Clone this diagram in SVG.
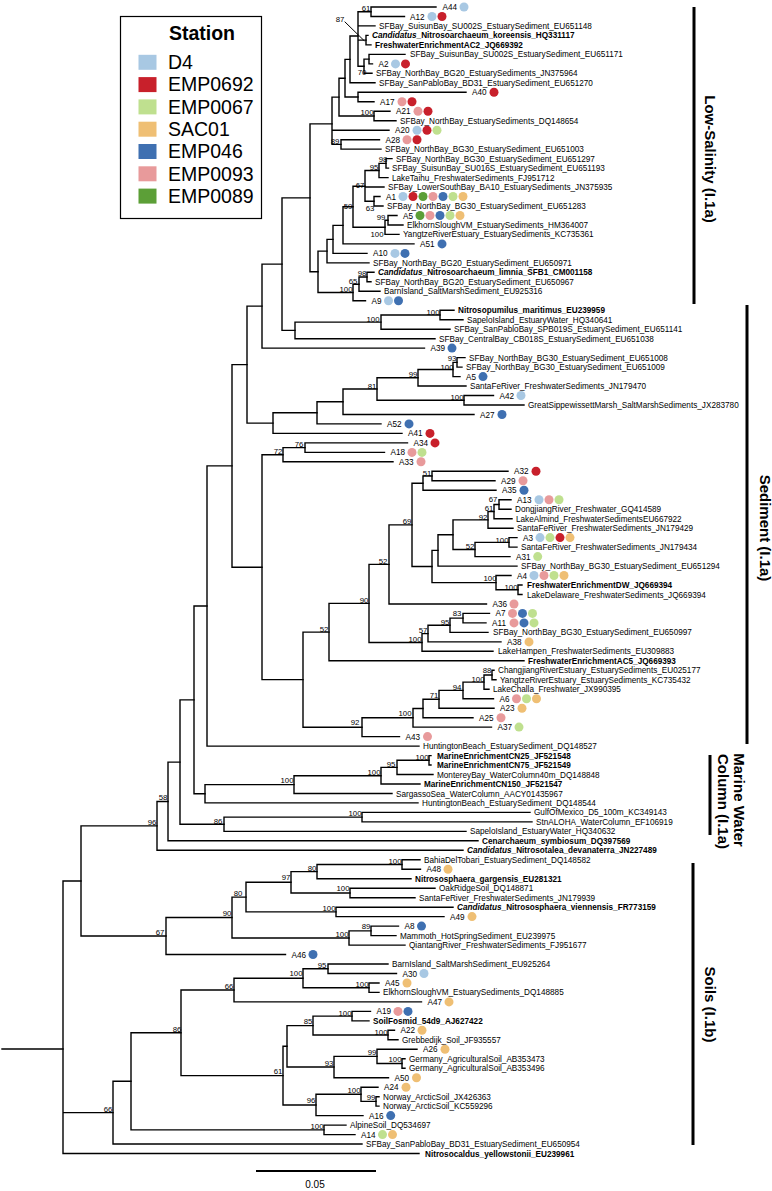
<svg xmlns="http://www.w3.org/2000/svg" width="772" height="1191" viewBox="0 0 772 1191">
<style>
.t{font-family:"Liberation Sans",Arial,Helvetica,sans-serif;font-size:8.2px;fill:#000}
.b{font-weight:bold}
.bs{font-family:"Liberation Sans",Arial,sans-serif;font-size:7.8px;text-anchor:middle;fill:#000}
.br path{fill:none;stroke:#000;stroke-width:1.4;stroke-linecap:square}
.bar{stroke:#000;stroke-width:3}
.cl{font-family:"Liberation Sans",Arial,sans-serif;font-size:15px;font-weight:bold;text-anchor:middle;fill:#000}
.lg{font-family:"Liberation Sans",Arial,sans-serif;font-size:19.5px;fill:#000}
.s1{fill:#a8c8e3}.s2{fill:#c8202b}.s3{fill:#bfe08f}.s4{fill:#efbf74}.s5{fill:#3f70b1}.s6{fill:#e89a9b}.s7{fill:#5c9f37}
</style>
<rect width="772" height="1191" fill="#fff"/>
<g id="legend">
<rect x="120.5" y="16.5" width="141" height="202" fill="#fff" stroke="#000" stroke-width="1.2"/>
<text class="lg" x="202" y="40" text-anchor="middle" font-weight="bold">Station</text>
<rect class="s1" x="138.5" y="54.8" width="18" height="15"/><text class="lg" x="168" y="69.1">D4</text>
<rect class="s2" x="138.5" y="77.1" width="18" height="15"/><text class="lg" x="168" y="91.4">EMP0692</text>
<rect class="s3" x="138.5" y="99.4" width="18" height="15"/><text class="lg" x="168" y="113.7">EMP0067</text>
<rect class="s4" x="138.5" y="121.7" width="18" height="15"/><text class="lg" x="168" y="136">SAC01</text>
<rect class="s5" x="138.5" y="144" width="18" height="15"/><text class="lg" x="168" y="158.3">EMP046</text>
<rect class="s6" x="138.5" y="166.3" width="18" height="15"/><text class="lg" x="168" y="180.6">EMP0093</text>
<rect class="s7" x="138.5" y="188.6" width="18" height="15"/><text class="lg" x="168" y="202.9">EMP0089</text>
</g>
<g id="branches" class="br">
<path d="M2 1049H63"/>
<path d="M436 7H371V16.5H404.5"/>
<path d="M368 35.4H366V44.9H371"/>
<path d="M405 54.4H369V63.9H372.5"/>
<path d="M369 59.15H364V73.3H372"/>
<path d="M371 11.75H358V66.2H364M358 25.9H375M358 40.15H366"/>
<path d="M358 36H350V82.8H375"/>
<path d="M466 92.3H358V101.8H374"/>
<path d="M350 59.4H345V97.05H358"/>
<path d="M390 111.2H374V120.7H396"/>
<path d="M345 78.2H339V115.95H374"/>
<path d="M379.5 139.7H341V149.1H381"/>
<path d="M339 97.1H332V144.4H341M332 130.2H389"/>
<path d="M392 158.6H386V168.1H388.5"/>
<path d="M386 163.35H379V177.6H388"/>
<path d="M380 196.5H374V206H383"/>
<path d="M379 170.5H365V201.25H374M365 187H384"/>
<path d="M397 215.5H388V225H403"/>
<path d="M388 220.25H385V234.4H399"/>
<path d="M365 186.25H353V227.3H385"/>
<path d="M353 206.8H343V243.9H414"/>
<path d="M343 225.35H333V253.4H367"/>
<path d="M333 239.4H327V262.9H369"/>
<path d="M374 272.3H367V281.8H371"/>
<path d="M367 277.05H359V291.3H380"/>
<path d="M359 284.2H353V300.8H365.5"/>
<path d="M327 251.1H318V292.5H353"/>
<path d="M332 123.9H310V271.8H318"/>
<path d="M454 310.2H440V319.7H463"/>
<path d="M440 314.95H381V329.2H450"/>
<path d="M381 322.1H295V338.7H435"/>
<path d="M310 197.85H282V330.4H295"/>
<path d="M282 264.1H262V348.1H424.5"/>
<path d="M465 357.6H457V367.1H462"/>
<path d="M457 362.35H453V376.6H460"/>
<path d="M453 369.5H418V386H466"/>
<path d="M493.5 395.5H464V405H524"/>
<path d="M418 377.75H377V400.25H464"/>
<path d="M377 389H343V414.5H474"/>
<path d="M343 401.75H317V423.9H381"/>
<path d="M317 412.8H273V433.4H402"/>
<path d="M262 306.1H247V423.1H273"/>
<path d="M407.5 442.9H305V452.4H384.5"/>
<path d="M305 447.65H283V461.8H393"/>
<path d="M508 471.3H432V480.8H495"/>
<path d="M432 476.05H423V490.3H496"/>
<path d="M511 499.7H499V509.2H511"/>
<path d="M499 504.45H494V518.7H512"/>
<path d="M494 511.6H488V528.2H513"/>
<path d="M517 537.6H509V547.1H517"/>
<path d="M509 542.35H475V556.6H510"/>
<path d="M488 519.9H453V549.5H475"/>
<path d="M453 534.7H438V566.1H517"/>
<path d="M522 585H518V594.5H522"/>
<path d="M511 575.5H496V589.75H518"/>
<path d="M438 550.4H432V582.6H496"/>
<path d="M423 483.2H412V566.5H432"/>
<path d="M412 524.85H389V604H486.5"/>
<path d="M489.5 613.4H463V622.9H486"/>
<path d="M463 618.15H450V632.4H488"/>
<path d="M450 625.3H428V641.9H501"/>
<path d="M428 633.6H422V651.3H493"/>
<path d="M389 564.4H369V642.45H422"/>
<path d="M369 603.4H329V660.8H524"/>
<path d="M494 670.3H492V679.8H496"/>
<path d="M492 675.05H484V689.2H489"/>
<path d="M484 682.1H463V698.7H493.5"/>
<path d="M463 690.4H439V708.2H494"/>
<path d="M439 699.3H423V717.7H473"/>
<path d="M423 708.5H413V727.1H491.5"/>
<path d="M413 717.8H362V736.6H399.5"/>
<path d="M329 632.1H303V727.2H362"/>
<path d="M283 454.7H262V679.65H303"/>
<path d="M247 364.6H232V567.2H262"/>
<path d="M232 465.9H207V746.1H419"/>
<path d="M431 755.6H429V765H431"/>
<path d="M429 760.3H397V774.5H433"/>
<path d="M397 767.4H381V784H420"/>
<path d="M381 775.7H294V793.5H392"/>
<path d="M294 784.6H205V802.9H418"/>
<path d="M207 606H194V793.75H205"/>
<path d="M530 812.4H362V821.9H532"/>
<path d="M362 817.15H224V831.4H466"/>
<path d="M194 699.9H180V824.3H224"/>
<path d="M180 762.1H168V840.8H478"/>
<path d="M168 801.45H157V850.3H463"/>
<path d="M420 859.8H402V869.3H420.5"/>
<path d="M402 864.55H317V878.7H411"/>
<path d="M435 888.2H350V897.7H415"/>
<path d="M317 871.6H291V892.95H350"/>
<path d="M453 907.2H336V916.6H444"/>
<path d="M291 882.3H246V911.9H336"/>
<path d="M398.5 926.1H371V935.6H396"/>
<path d="M371 930.85H349V945.1H405"/>
<path d="M246 897.1H232V938H349"/>
<path d="M232 917.55H166V954.5H285.5"/>
<path d="M157 825.9H81V936H166"/>
<path d="M388 964H328V973.5H396.5"/>
<path d="M379 983H369V992.4H379"/>
<path d="M328 968.75H303V987.7H369"/>
<path d="M303 978.2H234V1001.9H421.5"/>
<path d="M370.5 1011.4H352V1020.9H369"/>
<path d="M394.5 1030.3H388V1039.8H398"/>
<path d="M352 1016.15H313V1035.05H388"/>
<path d="M405 1058.8H402V1068.2H405"/>
<path d="M417 1049.3H377V1063.5H402"/>
<path d="M377 1056.4H334V1077.7H388.5"/>
<path d="M313 1025.6H287V1067.05H334"/>
<path d="M379 1096.7H376V1106.1H379"/>
<path d="M378 1087.2H361V1101.4H376"/>
<path d="M361 1094.3H316V1115.6H363"/>
<path d="M287 1046.3H283V1104.95H316"/>
<path d="M234 990.05H181V1075.6H283"/>
<path d="M346 1125.1H324V1134.6H355"/>
<path d="M181 1032.8H131V1129.85H324"/>
<path d="M131 1081.3H113V1144H362"/>
<path d="M81 880.95H63V1153.5H419M63 1112.65H113"/>
<path d="M345 22L364 40.5" style="stroke-width:1"/>
</g>
<g id="support">
<text class="bs" x="366" y="10.9">61</text><text class="bs" x="340" y="21.9">87</text><text class="bs" x="362" y="74.9">70</text><text class="bs" x="367" y="114.9">100</text><text class="bs" x="335" y="143.9">89</text><text class="bs" x="383" y="161.9">98</text><text class="bs" x="374" y="169.9">95</text><text class="bs" x="360" y="187.9">67</text><text class="bs" x="348" y="208.9">59</text><text class="bs" x="370" y="210.9">63</text><text class="bs" x="381" y="219.9">99</text><text class="bs" x="377" y="236.9">100</text><text class="bs" x="362" y="275.9">98</text><text class="bs" x="353" y="283.9">65</text><text class="bs" x="346" y="291.9">100</text><text class="bs" x="433" y="314.9">100</text><text class="bs" x="373" y="321.9">100</text><text class="bs" x="452" y="360.9">93</text><text class="bs" x="447" y="369.9">100</text><text class="bs" x="413" y="376.9">99</text><text class="bs" x="372" y="388.9">81</text><text class="bs" x="457" y="399.9">100</text><text class="bs" x="299" y="446.9">76</text><text class="bs" x="278" y="453.9">72</text><text class="bs" x="427" y="475.9">51</text><text class="bs" x="493" y="501.9">67</text><text class="bs" x="489" y="510.9">61</text><text class="bs" x="483" y="519.9">92</text><text class="bs" x="407" y="523.9">69</text><text class="bs" x="502" y="542.9">100</text><text class="bs" x="470" y="548.9">52</text><text class="bs" x="383" y="563.9">52</text><text class="bs" x="490" y="580.9">100</text><text class="bs" x="511" y="589.9">100</text><text class="bs" x="364" y="602.9">90</text><text class="bs" x="457" y="615.9">83</text><text class="bs" x="445" y="624.9">95</text><text class="bs" x="423" y="632.9">57</text><text class="bs" x="324" y="631.9">52</text><text class="bs" x="415" y="641.9">100</text><text class="bs" x="487" y="672.9">88</text><text class="bs" x="478" y="681.9">100</text><text class="bs" x="457" y="689.9">94</text><text class="bs" x="434" y="697.9">71</text><text class="bs" x="405" y="715.9">100</text><text class="bs" x="355" y="724.9">92</text><text class="bs" x="422" y="759.9">100</text><text class="bs" x="391" y="766.9">95</text><text class="bs" x="374" y="774.9">100</text><text class="bs" x="287" y="782.9">100</text><text class="bs" x="163" y="799.9">58</text><text class="bs" x="355" y="815.9">100</text><text class="bs" x="218" y="823.9">86</text><text class="bs" x="152" y="824.9">96</text><text class="bs" x="395" y="863.9">100</text><text class="bs" x="312" y="870.9">80</text><text class="bs" x="286" y="879.9">97</text><text class="bs" x="343" y="890.9">100</text><text class="bs" x="238" y="895.9">80</text><text class="bs" x="329" y="910.9">100</text><text class="bs" x="227" y="915.9">90</text><text class="bs" x="366" y="928.9">89</text><text class="bs" x="342" y="936.9">100</text><text class="bs" x="160" y="934.9">67</text><text class="bs" x="322" y="967.9">95</text><text class="bs" x="296" y="975.9">100</text><text class="bs" x="229" y="988.9">66</text><text class="bs" x="362" y="986.9">100</text><text class="bs" x="345" y="1015.9">100</text><text class="bs" x="308" y="1023.9">85</text><text class="bs" x="177" y="1031.9">86</text><text class="bs" x="381" y="1034.9">100</text><text class="bs" x="372" y="1054.9">99</text><text class="bs" x="395" y="1061.9">100</text><text class="bs" x="329" y="1065.9">93</text><text class="bs" x="278" y="1073.9">61</text><text class="bs" x="354" y="1092.9">100</text><text class="bs" x="371" y="1099.9">99</text><text class="bs" x="311" y="1102.9">96</text><text class="bs" x="108" y="1111.9">66</text><text class="bs" x="317" y="1128.9">100</text>
</g>
<g id="leaf1"><text class="t" x="442.5" y="10">A44</text><circle class="s1" cx="464" cy="7" r="4.5"/></g>
<g id="leaf2"><text class="t" x="410" y="19.5">A12</text><circle class="s1" cx="432" cy="16.5" r="4.5"/><circle class="s2" cx="442" cy="16.5" r="4.5"/></g>
<g id="leaf3"><text class="t" x="379" y="28.9">SFBay_SuisunBay_SU002S_EstuarySediment_EU651148</text></g>
<g id="leaf4"><text class="t b" x="372" y="38.4"><tspan font-style="italic">Candidatus</tspan>_Nitrosoarchaeum_koreensis_HQ331117</text></g>
<g id="leaf5"><text class="t b" x="375" y="47.9">FreshwaterEnrichmentAC2_JQ669392</text></g>
<g id="leaf6"><text class="t" x="410" y="57.4">SFBay_SuisunBay_SU002S_EstuarySediment_EU651171</text></g>
<g id="leaf7"><text class="t" x="378.5" y="66.9">A2</text><circle class="s1" cx="395.5" cy="63.9" r="4.5"/><circle class="s2" cx="405.5" cy="63.9" r="4.5"/></g>
<g id="leaf8"><text class="t" x="376" y="76.3">SFBay_NorthBay_BG20_EstuarySediments_JN375964</text></g>
<g id="leaf9"><text class="t" x="379" y="85.8">SFBay_SanPabloBay_BD31_EstuarySediment_EU651270</text></g>
<g id="leaf10"><text class="t" x="472" y="95.3">A40</text><circle class="s2" cx="494" cy="92.3" r="4.5"/></g>
<g id="leaf11"><text class="t" x="380" y="104.8">A17</text><circle class="s6" cx="402" cy="101.8" r="4.5"/><circle class="s2" cx="412" cy="101.8" r="4.5"/></g>
<g id="leaf12"><text class="t" x="396" y="114.2">A21</text><circle class="s6" cx="418" cy="111.2" r="4.5"/><circle class="s2" cx="428" cy="111.2" r="4.5"/></g>
<g id="leaf13"><text class="t" x="400" y="123.7">SFBay_NorthBay_EstuarySediments_DQ148654</text></g>
<g id="leaf14"><text class="t" x="395" y="133.2">A20</text><circle class="s1" cx="417" cy="130.2" r="4.5"/><circle class="s2" cx="427" cy="130.2" r="4.5"/><circle class="s3" cx="437" cy="130.2" r="4.5"/></g>
<g id="leaf15"><text class="t" x="385.5" y="142.7">A28</text><circle class="s6" cx="407" cy="139.7" r="4.5"/><circle class="s2" cx="417" cy="139.7" r="4.5"/></g>
<g id="leaf16"><text class="t" x="385" y="152.1">SFBay_NorthBay_BG30_EstuarySediment_EU651003</text></g>
<g id="leaf17"><text class="t" x="396" y="161.6">SFBay_NorthBay_BG30_EstuarySediment_EU651297</text></g>
<g id="leaf18"><text class="t" x="392" y="171.1">SFBay_SuisunBay_SU016S_EstuarySediment_EU651193</text></g>
<g id="leaf19"><text class="t" x="392" y="180.6">LakeTaihu_FreshwaterSediments_FJ951712</text></g>
<g id="leaf20"><text class="t" x="388" y="190">SFBay_LowerSouthBay_BA10_EstuarySediments_JN375935</text></g>
<g id="leaf21"><text class="t" x="386" y="199.5">A1</text><circle class="s1" cx="403" cy="196.5" r="4.5"/><circle class="s2" cx="413" cy="196.5" r="4.5"/><circle class="s7" cx="423" cy="196.5" r="4.5"/><circle class="s6" cx="433" cy="196.5" r="4.5"/><circle class="s5" cx="443" cy="196.5" r="4.5"/><circle class="s3" cx="453" cy="196.5" r="4.5"/><circle class="s4" cx="463" cy="196.5" r="4.5"/></g>
<g id="leaf22"><text class="t" x="387" y="209">SFBay_NorthBay_BG30_EstuarySediment_EU651283</text></g>
<g id="leaf23"><text class="t" x="403" y="218.5">A5</text><circle class="s7" cx="420" cy="215.5" r="4.5"/><circle class="s6" cx="430" cy="215.5" r="4.5"/><circle class="s5" cx="440" cy="215.5" r="4.5"/><circle class="s3" cx="450" cy="215.5" r="4.5"/><circle class="s4" cx="460" cy="215.5" r="4.5"/></g>
<g id="leaf24"><text class="t" x="407" y="228">ElkhornSloughVM_EstuarySediments_HM364007</text></g>
<g id="leaf25"><text class="t" x="403" y="237.4">YangtzeRiverEstuary_EstuarySediments_KC735361</text></g>
<g id="leaf26"><text class="t" x="420" y="246.9">A51</text><circle class="s5" cx="442" cy="243.9" r="4.5"/></g>
<g id="leaf27"><text class="t" x="373" y="256.4">A10</text><circle class="s1" cx="395" cy="253.4" r="4.5"/><circle class="s5" cx="405" cy="253.4" r="4.5"/></g>
<g id="leaf28"><text class="t" x="373" y="265.9">SFBay_NorthBay_BG20_EstuarySediment_EU650971</text></g>
<g id="leaf29"><text class="t b" x="378" y="275.3"><tspan font-style="italic">Candidatus</tspan>_Nitrosoarchaeum_limnia_SFB1_CM001158</text></g>
<g id="leaf30"><text class="t" x="375" y="284.8">SFBay_NorthBay_BG20_EstuarySediment_EU650967</text></g>
<g id="leaf31"><text class="t" x="384" y="294.3">BarnIsland_SaltMarshSediment_EU925316</text></g>
<g id="leaf32"><text class="t" x="371.5" y="303.8">A9</text><circle class="s1" cx="388.5" cy="300.8" r="4.5"/><circle class="s5" cx="398.5" cy="300.8" r="4.5"/></g>
<g id="leaf33"><text class="t b" x="458" y="313.2">Nitrosopumilus_maritimus_EU239959</text></g>
<g id="leaf34"><text class="t" x="467" y="322.7">SapeloIsland_EstuaryWater_HQ340641</text></g>
<g id="leaf35"><text class="t" x="454" y="332.2">SFBay_SanPabloBay_SPB019S_EstuarySediment_EU651141</text></g>
<g id="leaf36"><text class="t" x="439" y="341.7">SFBay_CentralBay_CB018S_EstuarySediment_EU651038</text></g>
<g id="leaf37"><text class="t" x="430.5" y="351.1">A39</text><circle class="s5" cx="452" cy="348.1" r="4.5"/></g>
<g id="leaf38"><text class="t" x="469" y="360.6">SFBay_NorthBay_BG30_EstuarySediment_EU651008</text></g>
<g id="leaf39"><text class="t" x="466" y="370.1">SFBay_NorthBay_BG30_EstuarySediment_EU651009</text></g>
<g id="leaf40"><text class="t" x="466" y="379.6">A5</text><circle class="s5" cx="483" cy="376.6" r="4.5"/></g>
<g id="leaf41"><text class="t" x="470" y="389">SantaFeRiver_FreshwaterSediments_JN179470</text></g>
<g id="leaf42"><text class="t" x="499.5" y="398.5">A42</text><circle class="s1" cx="521" cy="395.5" r="4.5"/></g>
<g id="leaf43"><text class="t" x="528" y="408">GreatSippewissettMarsh_SaltMarshSediments_JX283780</text></g>
<g id="leaf44"><text class="t" x="480" y="417.5">A27</text><circle class="s5" cx="502" cy="414.5" r="4.5"/></g>
<g id="leaf45"><text class="t" x="387" y="426.9">A52</text><circle class="s5" cx="409" cy="423.9" r="4.5"/></g>
<g id="leaf46"><text class="t" x="408" y="436.4">A41</text><circle class="s2" cx="430" cy="433.4" r="4.5"/></g>
<g id="leaf47"><text class="t" x="413.5" y="445.9">A34</text><circle class="s2" cx="435" cy="442.9" r="4.5"/></g>
<g id="leaf48"><text class="t" x="390.5" y="455.4">A18</text><circle class="s6" cx="412" cy="452.4" r="4.5"/><circle class="s3" cx="422" cy="452.4" r="4.5"/></g>
<g id="leaf49"><text class="t" x="399" y="464.8">A33</text><circle class="s6" cx="421" cy="461.8" r="4.5"/></g>
<g id="leaf50"><text class="t" x="514" y="474.3">A32</text><circle class="s2" cx="536" cy="471.3" r="4.5"/></g>
<g id="leaf51"><text class="t" x="501" y="483.8">A29</text><circle class="s6" cx="523" cy="480.8" r="4.5"/></g>
<g id="leaf52"><text class="t" x="502" y="493.3">A35</text><circle class="s5" cx="524" cy="490.3" r="4.5"/></g>
<g id="leaf53"><text class="t" x="517" y="502.7">A13</text><circle class="s1" cx="539" cy="499.7" r="4.5"/><circle class="s6" cx="549" cy="499.7" r="4.5"/><circle class="s3" cx="559" cy="499.7" r="4.5"/></g>
<g id="leaf54"><text class="t" x="515" y="512.2">DongjiangRiver_Freshwater_GQ414589</text></g>
<g id="leaf55"><text class="t" x="516" y="521.7">LakeAlmind_FreshwaterSedimentsEU667922</text></g>
<g id="leaf56"><text class="t" x="517" y="531.2">SantaFeRiver_FreshwaterSediments_JN179429</text></g>
<g id="leaf57"><text class="t" x="523" y="540.6">A3</text><circle class="s1" cx="540" cy="537.6" r="4.5"/><circle class="s3" cx="550" cy="537.6" r="4.5"/><circle class="s2" cx="560" cy="537.6" r="4.5"/><circle class="s4" cx="570" cy="537.6" r="4.5"/></g>
<g id="leaf58"><text class="t" x="521" y="550.1">SantaFeRiver_FreshwaterSediments_JN179434</text></g>
<g id="leaf59"><text class="t" x="516" y="559.6">A31</text><circle class="s3" cx="537.7" cy="556.6" r="4.5"/></g>
<g id="leaf60"><text class="t" x="521" y="569.1">SFBay_NorthBay_BG30_EstuarySediment_EU651294</text></g>
<g id="leaf61"><text class="t" x="517" y="578.5">A4</text><circle class="s1" cx="534" cy="575.5" r="4.5"/><circle class="s6" cx="544" cy="575.5" r="4.5"/><circle class="s3" cx="554" cy="575.5" r="4.5"/><circle class="s4" cx="564" cy="575.5" r="4.5"/></g>
<g id="leaf62"><text class="t b" x="527" y="588">FreshwaterEnrichmentDW_JQ669394</text></g>
<g id="leaf63"><text class="t" x="527" y="597.5">LakeDelaware_FreshwaterSediments_JQ669394</text></g>
<g id="leaf64"><text class="t" x="492.5" y="607">A36</text><circle class="s6" cx="514" cy="604" r="4.5"/></g>
<g id="leaf65"><text class="t" x="495.5" y="616.4">A7</text><circle class="s6" cx="512.5" cy="613.4" r="4.5"/><circle class="s5" cx="522.5" cy="613.4" r="4.5"/><circle class="s3" cx="532.5" cy="613.4" r="4.5"/></g>
<g id="leaf66"><text class="t" x="492" y="625.9">A11</text><circle class="s6" cx="514" cy="622.9" r="4.5"/><circle class="s5" cx="524" cy="622.9" r="4.5"/><circle class="s3" cx="534" cy="622.9" r="4.5"/></g>
<g id="leaf67"><text class="t" x="493" y="635.4">SFBay_NorthBay_BG30_EstuarySediment_EU650997</text></g>
<g id="leaf68"><text class="t" x="507" y="644.9">A38</text><circle class="s4" cx="529" cy="641.9" r="4.5"/></g>
<g id="leaf69"><text class="t" x="498" y="654.3">LakeHampen_FreshwaterSediments_EU309883</text></g>
<g id="leaf70"><text class="t b" x="528" y="663.8">FreshwaterEnrichmentAC5_JQ669393</text></g>
<g id="leaf71"><text class="t" x="498" y="673.3">ChangjiangRiverEstuary_EstuarySediments_EU025177</text></g>
<g id="leaf72"><text class="t" x="500" y="682.8">YangtzeRiverEstuary_EstuarySediments_KC735432</text></g>
<g id="leaf73"><text class="t" x="493" y="692.2">LakeChalla_Freshwater_JX990395</text></g>
<g id="leaf74"><text class="t" x="499.5" y="701.7">A6</text><circle class="s6" cx="516.5" cy="698.7" r="4.5"/><circle class="s3" cx="526.5" cy="698.7" r="4.5"/><circle class="s4" cx="536.5" cy="698.7" r="4.5"/></g>
<g id="leaf75"><text class="t" x="500" y="711.2">A23</text><circle class="s4" cx="522" cy="708.2" r="4.5"/></g>
<g id="leaf76"><text class="t" x="479" y="720.7">A25</text><circle class="s6" cx="501" cy="717.7" r="4.5"/></g>
<g id="leaf77"><text class="t" x="497.5" y="730.1">A37</text><circle class="s3" cx="519" cy="727.1" r="4.5"/></g>
<g id="leaf78"><text class="t" x="405.5" y="739.6">A43</text><circle class="s6" cx="427.5" cy="736.6" r="4.5"/></g>
<g id="leaf79"><text class="t" x="423" y="749.1">HuntingtonBeach_EstuarySediment_DQ148527</text></g>
<g id="leaf80"><text class="t b" x="437" y="758.6">MarineEnrichmentCN25_JF521548</text></g>
<g id="leaf81"><text class="t b" x="437" y="768">MarineEnrichmentCN75_JF521549</text></g>
<g id="leaf82"><text class="t" x="437" y="777.5">MontereyBay_WaterColumn40m_DQ148848</text></g>
<g id="leaf83"><text class="t b" x="424" y="787">MarineEnrichmentCN150_JF521547</text></g>
<g id="leaf84"><text class="t" x="396" y="796.5">SargassoSea_WaterColumn_AACY01435967</text></g>
<g id="leaf85"><text class="t" x="422" y="805.9">HuntingtonBeach_EstuarySediment_DQ148544</text></g>
<g id="leaf86"><text class="t" x="534" y="815.4">GulfOfMexico_D5_100m_KC349143</text></g>
<g id="leaf87"><text class="t" x="536" y="824.9">StnALOHA_WaterColumn_EF106919</text></g>
<g id="leaf88"><text class="t" x="470" y="834.4">SapeloIsland_EstuaryWater_HQ340632</text></g>
<g id="leaf89"><text class="t b" x="482" y="843.8">Cenarchaeum_symbiosum_DQ397569</text></g>
<g id="leaf90"><text class="t b" x="467" y="853.3"><tspan font-style="italic">Candidatus</tspan>_Nitrosotalea_devanaterra_JN227489</text></g>
<g id="leaf91"><text class="t" x="424" y="862.8">BahiaDelTobari_EstuarySediment_DQ148582</text></g>
<g id="leaf92"><text class="t" x="426.5" y="872.3">A48</text><circle class="s4" cx="448" cy="869.3" r="4.5"/></g>
<g id="leaf93"><text class="t b" x="415" y="881.7">Nitrososphaera_gargensis_EU281321</text></g>
<g id="leaf94"><text class="t" x="439" y="891.2">OakRidgeSoil_DQ148871</text></g>
<g id="leaf95"><text class="t" x="419" y="900.7">SantaFeRiver_FreshwaterSediments_JN179939</text></g>
<g id="leaf96"><text class="t b" x="457" y="910.2"><tspan font-style="italic">Candidatus</tspan>_Nitrososphaera_viennensis_FR773159</text></g>
<g id="leaf97"><text class="t" x="450" y="919.6">A49</text><circle class="s4" cx="472" cy="916.6" r="4.5"/></g>
<g id="leaf98"><text class="t" x="404.5" y="929.1">A8</text><circle class="s5" cx="421.5" cy="926.1" r="4.5"/></g>
<g id="leaf99"><text class="t" x="400" y="938.6">Mammoth_HotSpringSediment_EU239975</text></g>
<g id="leaf100"><text class="t" x="409" y="948.1">QiantangRiver_FreshwaterSediments_FJ951677</text></g>
<g id="leaf101"><text class="t" x="291.5" y="957.5">A46</text><circle class="s5" cx="313" cy="954.5" r="4.5"/></g>
<g id="leaf102"><text class="t" x="392" y="967">BarnIsland_SaltMarshSediment_EU925264</text></g>
<g id="leaf103"><text class="t" x="402.5" y="976.5">A30</text><circle class="s1" cx="424" cy="973.5" r="4.5"/></g>
<g id="leaf104"><text class="t" x="385" y="986">A45</text><circle class="s4" cx="407" cy="983" r="4.5"/></g>
<g id="leaf105"><text class="t" x="383" y="995.4">ElkhornSloughVM_EstuarySediments_DQ148885</text></g>
<g id="leaf106"><text class="t" x="427.5" y="1004.9">A47</text><circle class="s4" cx="449" cy="1001.9" r="4.5"/></g>
<g id="leaf107"><text class="t" x="376.5" y="1014.4">A19</text><circle class="s6" cx="398" cy="1011.4" r="4.5"/><circle class="s5" cx="408" cy="1011.4" r="4.5"/></g>
<g id="leaf108"><text class="t b" x="373" y="1023.9">SoilFosmid_54d9_AJ627422</text></g>
<g id="leaf109"><text class="t" x="400.5" y="1033.3">A22</text><circle class="s4" cx="422" cy="1030.3" r="4.5"/></g>
<g id="leaf110"><text class="t" x="402" y="1042.8">Grebbedijk_Soil_JF935557</text></g>
<g id="leaf111"><text class="t" x="423" y="1052.3">A26</text><circle class="s4" cx="445" cy="1049.3" r="4.5"/></g>
<g id="leaf112"><text class="t" x="409" y="1061.8">Germany_AgriculturalSoil_AB353473</text></g>
<g id="leaf113"><text class="t" x="409" y="1071.2">Germany_AgriculturalSoil_AB353496</text></g>
<g id="leaf114"><text class="t" x="394.5" y="1080.7">A50</text><circle class="s4" cx="416.5" cy="1077.7" r="4.5"/></g>
<g id="leaf115"><text class="t" x="384" y="1090.2">A24</text><circle class="s4" cx="406" cy="1087.2" r="4.5"/></g>
<g id="leaf116"><text class="t" x="383" y="1099.7">Norway_ArcticSoil_JX426363</text></g>
<g id="leaf117"><text class="t" x="383" y="1109.1">Norway_ArcticSoil_KC559296</text></g>
<g id="leaf118"><text class="t" x="369" y="1118.6">A16</text><circle class="s5" cx="390.7" cy="1115.6" r="4.5"/></g>
<g id="leaf119"><text class="t" x="350" y="1128.1">AlpineSoil_DQ534697</text></g>
<g id="leaf120"><text class="t" x="361" y="1137.6">A14</text><circle class="s3" cx="382.5" cy="1134.6" r="4.5"/><circle class="s4" cx="392.5" cy="1134.6" r="4.5"/></g>
<g id="leaf121"><text class="t" x="366" y="1147">SFBay_SanPabloBay_BD31_EstuarySediment_EU650954</text></g>
<g id="leaf122"><text class="t b" x="425" y="1156.5">Nitrosocaldus_yellowstonii_EU239961</text></g>
<g id="clades">
<line class="bar" x1="694" y1="7" x2="694" y2="304"/>
<text class="cl" transform="translate(704.5,159) rotate(90)">Low-Salinity (I.1a)</text>
<line class="bar" x1="747" y1="305" x2="747" y2="744"/>
<text class="cl" transform="translate(759.5,528) rotate(90)">Sediment (I.1a)</text>
<line class="bar" x1="710" y1="755" x2="710" y2="835"/>
<text class="cl" transform="translate(734,800) rotate(90)">Marine Water</text>
<text class="cl" transform="translate(717.5,801.5) rotate(90)">Column (I.1a)</text>
<line class="bar" x1="693" y1="863" x2="693" y2="1145"/>
<text class="cl" transform="translate(704.5,1004.5) rotate(90)">Soils (I.1b)</text>
</g>
<g id="scale">
<line x1="256" y1="1171" x2="376" y2="1171" stroke="#000" stroke-width="2.2"/>
<text x="315" y="1188" font-family="Liberation Sans, Arial, sans-serif" font-size="10" text-anchor="middle">0.05</text>
</g>
</svg>
